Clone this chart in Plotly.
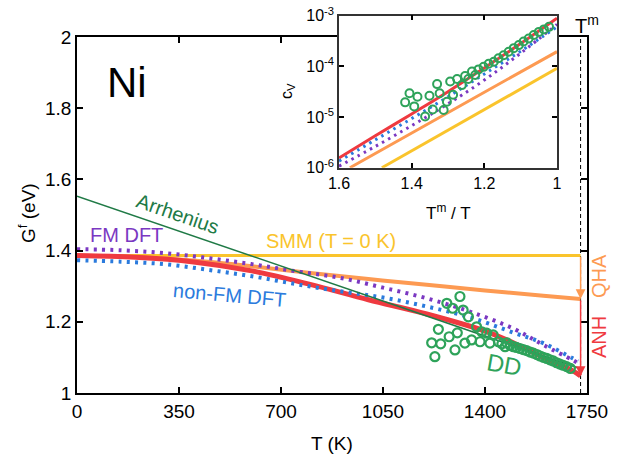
import plotly.graph_objects as go

# ---------------- data ----------------
T_MELT = 1728  # K

smm_T = [0, 1728]
smm_G = [1.386, 1.386]

qha_T = [0, 200, 400, 600, 800, 1000, 1200, 1400, 1600, 1728]
qha_G = [1.386, 1.382, 1.372, 1.356, 1.337, 1.320, 1.304, 1.288, 1.273, 1.264]

anh_T = [0, 200, 400, 600, 800, 1000, 1200, 1400, 1500, 1600, 1700, 1728]
anh_G = [1.386, 1.381, 1.368, 1.343, 1.305, 1.262, 1.222, 1.174, 1.140, 1.100, 1.063, 1.048]

arr_T = [0, 1728]
arr_G = [1.553, 1.068]

fm_T = [0, 150, 300, 450, 600, 750, 900, 1050, 1200, 1350, 1500, 1600, 1700, 1715]
fm_G = [1.404, 1.401, 1.393, 1.379, 1.362, 1.342, 1.324, 1.296, 1.266, 1.228, 1.180, 1.135, 1.093, 1.086]

nfm_T = [0, 150, 300, 450, 600, 750, 900, 1050, 1200, 1350, 1500, 1600, 1700, 1720]
nfm_G = [1.373, 1.369, 1.362, 1.346, 1.328, 1.306, 1.286, 1.268, 1.243, 1.212, 1.169, 1.140, 1.098, 1.090]

dd_T = [1228, 1217, 1248, 1240, 1269, 1277, 1289, 1297, 1305, 1314, 1325, 1331, 1343, 1354,
        1371, 1383, 1389, 1406, 1417, 1428, 1446, 1458, 1469, 1474, 1486, 1497, 1508, 1520,
        1531, 1543, 1555, 1566, 1578, 1589, 1600, 1612, 1623, 1634, 1646, 1657, 1668, 1680, 1693]
dd_G = [1.102, 1.141, 1.138, 1.179, 1.252, 1.158, 1.238, 1.121, 1.169, 1.271, 1.233, 1.140, 1.214, 1.149,
        1.186, 1.144, 1.172, 1.168, 1.140, 1.163, 1.144, 1.138, 1.130, 1.141, 1.134, 1.130, 1.128, 1.125,
        1.122, 1.119, 1.115, 1.112, 1.108, 1.104, 1.100, 1.097, 1.093, 1.090, 1.085, 1.081, 1.078, 1.074, 1.069]

# inset: Tm/T versus log10(c_V)
in_x = [1.6, 1.5, 1.4, 1.3, 1.2, 1.1, 1.0]
in_anh_log = [-5.81, -5.37, -4.94, -4.50, -4.03, -3.55, -3.05]
in_nfm_log = [-5.87, -5.45, -5.03, -4.60, -4.15, -3.70, -3.22]
in_fm_log = [-5.97, -5.58, -5.17, -4.74, -4.27, -3.74, -3.17]
in_qha_x = [1.57, 1.4, 1.2, 1.0]
in_qha_log = [-6.0, -5.31, -4.51, -3.71]
in_smm_x = [1.482, 1.2, 1.0]
in_smm_log = [-6.0, -4.85, -4.04]
in_dd_x = [1.418, 1.406, 1.393, 1.384, 1.363, 1.351, 1.342, 1.330, 1.323, 1.312, 1.303, 1.294,
           1.286, 1.275, 1.262, 1.253, 1.244, 1.234, 1.225, 1.216, 1.202, 1.188, 1.174, 1.161,
           1.147, 1.133, 1.119, 1.105, 1.092, 1.078, 1.064, 1.050, 1.036, 1.022]
in_dd_log = [-4.71, -4.53, -4.79, -4.60, -4.99, -4.58, -4.85, -4.35, -4.53, -4.86, -4.70, -4.30,
             -4.56, -4.25, -4.37, -4.19, -4.25, -4.10, -4.17, -4.06, -4.01, -3.95, -3.91, -3.84,
             -3.78, -3.71, -3.64, -3.58, -3.51, -3.45, -3.38, -3.32, -3.27, -3.22]

x_ticks = [0, 350, 700, 1050, 1400, 1750]
y_ticks = [1, 1.2, 1.4, 1.6, 1.8, 2]
in_x_ticks = [1.6, 1.4, 1.2, 1.0]
in_x_ticklabels = ["1.6", "1.4", "1.2", "1"]
in_y_exps = [-6, -5, -4, -3]

# ---------------- styles ----------------
C_SMM = "#FAC42C"
C_QHA = "#FD9A52"
C_ANH = "#EF3A40"
C_FM = "#7B38C2"
C_NFM = "#2B7BDD"
C_DD = "#2EA35A"
C_ARR = "#207A46"
FONT = "Liberation Sans, Arial, sans-serif"

W, H = 618, 455
L, R, TOP, B = 77, 31, 10, 62
PW, PH = W - L - R, H - TOP - B


def fx(px):
    return (px - L) / PW


def fy(py):
    return (H - B - py) / PH


def tolin(vals):
    return [10 ** v for v in vals]


fig = go.Figure()

DOT = "3px,5.3px"

# main panel
fig.add_trace(go.Scatter(x=smm_T, y=smm_G, mode="lines", line=dict(color=C_SMM, width=3)))
fig.add_trace(go.Scatter(x=qha_T, y=qha_G, mode="lines", line=dict(color=C_QHA, width=4, shape="spline")))
fig.add_trace(go.Scatter(x=anh_T, y=anh_G, mode="lines", line=dict(color=C_ANH, width=5, shape="spline")))
fig.add_trace(go.Scatter(x=nfm_T, y=nfm_G, mode="lines",
                         line=dict(color=C_NFM, width=4, dash=DOT, shape="spline")))
fig.add_trace(go.Scatter(x=fm_T, y=fm_G, mode="lines",
                         line=dict(color=C_FM, width=4, dash=DOT, shape="spline")))
fig.add_trace(go.Scatter(x=arr_T, y=arr_G, mode="lines", line=dict(color=C_ARR, width=1.5)))
fig.add_trace(go.Scatter(x=dd_T, y=dd_G, mode="markers",
                         marker=dict(symbol="circle-open", size=9, color=C_DD, line=dict(width=2.2, color=C_DD))))

# inset
fig.add_trace(go.Scatter(x=in_smm_x, y=tolin(in_smm_log), mode="lines", xaxis="x2", yaxis="y2",
                         line=dict(color=C_SMM, width=3)))
fig.add_trace(go.Scatter(x=in_qha_x, y=tolin(in_qha_log), mode="lines", xaxis="x2", yaxis="y2",
                         line=dict(color=C_QHA, width=3)))
fig.add_trace(go.Scatter(x=in_x, y=tolin(in_anh_log), mode="lines", xaxis="x2", yaxis="y2",
                         line=dict(color=C_ANH, width=3, shape="spline")))
fig.add_trace(go.Scatter(x=in_x, y=tolin(in_nfm_log), mode="lines", xaxis="x2", yaxis="y2",
                         line=dict(color=C_NFM, width=3, dash="2.5px,4.5px", shape="spline")))
fig.add_trace(go.Scatter(x=in_x, y=tolin(in_fm_log), mode="lines", xaxis="x2", yaxis="y2",
                         line=dict(color=C_FM, width=3, dash="2.5px,4.5px", shape="spline")))
fig.add_trace(go.Scatter(x=in_dd_x, y=tolin(in_dd_log), mode="markers", xaxis="x2", yaxis="y2",
                         marker=dict(symbol="circle-open", size=8, color=C_DD, line=dict(width=2, color=C_DD))))

axis_common = dict(showline=True, linecolor="black", linewidth=1.5, mirror="ticks",
                   ticks="inside", ticklen=6, tickwidth=1.5, tickcolor="black",
                   showgrid=False, zeroline=False, automargin=False)

fig.update_layout(
    template="none",
    width=W, height=H,
    margin=dict(l=L, r=R, t=TOP, b=B, autoexpand=False),
    paper_bgcolor="white", plot_bgcolor="white",
    showlegend=False,
    font=dict(family=FONT, size=19, color="black"),
    xaxis=dict(domain=[0, 1], range=[0, 1750], tickvals=x_ticks, anchor="y",
               tickfont=dict(size=19), **axis_common),
    yaxis=dict(domain=[0, fy(37)], range=[1, 2], tickvals=y_ticks, anchor="x",
               tickfont=dict(size=19), **axis_common),
    xaxis2=dict(domain=[fx(339), fx(557)], range=[1.6, 1.0], anchor="y2",
                tickvals=in_x_ticks, ticktext=in_x_ticklabels, tickfont=dict(size=16),
                **{**axis_common, "linecolor": "#333", "ticklen": 5}),
    yaxis2=dict(domain=[fy(167.7), fy(15.7)], type="log", range=[-6, -3], anchor="x2",
                tickvals=[10 ** e for e in in_y_exps],
                ticktext=["10<sup>%d</sup>" % e for e in in_y_exps], tickfont=dict(size=16),
                **{**axis_common, "linecolor": "#333", "ticklen": 5}),
)

# melting temperature marker
fig.add_shape(type="line", xref="x", yref="y", x0=T_MELT, x1=T_MELT, y0=1, y1=2,
              line=dict(color="black", width=1, dash="4px,3px"), layer="below")

# QHA and ANH arrows
fig.add_annotation(x=T_MELT, y=qha_G[-1], ax=T_MELT, ay=smm_G[-1], xref="x", yref="y",
                   axref="x", ayref="y", text="", showarrow=True, arrowhead=2, arrowsize=1.3,
                   arrowwidth=1.5, arrowcolor=C_QHA, standoff=0)
fig.add_annotation(x=T_MELT, y=anh_G[-1], ax=T_MELT, ay=qha_G[-1], xref="x", yref="y",
                   axref="x", ayref="y", text="", showarrow=True, arrowhead=2, arrowsize=1.3,
                   arrowwidth=1.5, arrowcolor=C_ANH, standoff=0)


def label(text, px, py, color="black", size=20, angle=0):
    fig.add_annotation(x=fx(px), y=fy(py), xref="paper", yref="paper", text=text,
                       showarrow=False, xanchor="center", yanchor="middle", textangle=angle,
                       font=dict(family=FONT, size=size, color=color))


label("Ni", 127, 82, size=42)
label("Arrhenius", 178, 214, C_ARR, 20, 19)
label("FM DFT", 126, 235, C_FM, 20)
label("non-FM DFT", 229, 295, C_NFM, 20, 5)
label("SMM (T = 0 K)", 331, 241, C_SMM, 20)
label("QHA", 599, 276, C_QHA, 20, -90)
label("ANH", 599, 337, C_ANH, 20, -90)
label("DD", 504, 364, C_DD, 24, 10)
label("T<sup>m</sup>", 587, 25, size=20)
label("T (K)", 332, 443, size=19)
label("G<sup>f</sup> (eV)", 27, 213, size=19, angle=-90)
label("T<sup>m</sup> / T", 448, 212, size=17)
label("c<sub>V</sub>", 288, 91, size=16, angle=-90)

fig.write_html("out.html", config={"displayModeBar": False},
               post_script="document.body.style.margin='0px';")
